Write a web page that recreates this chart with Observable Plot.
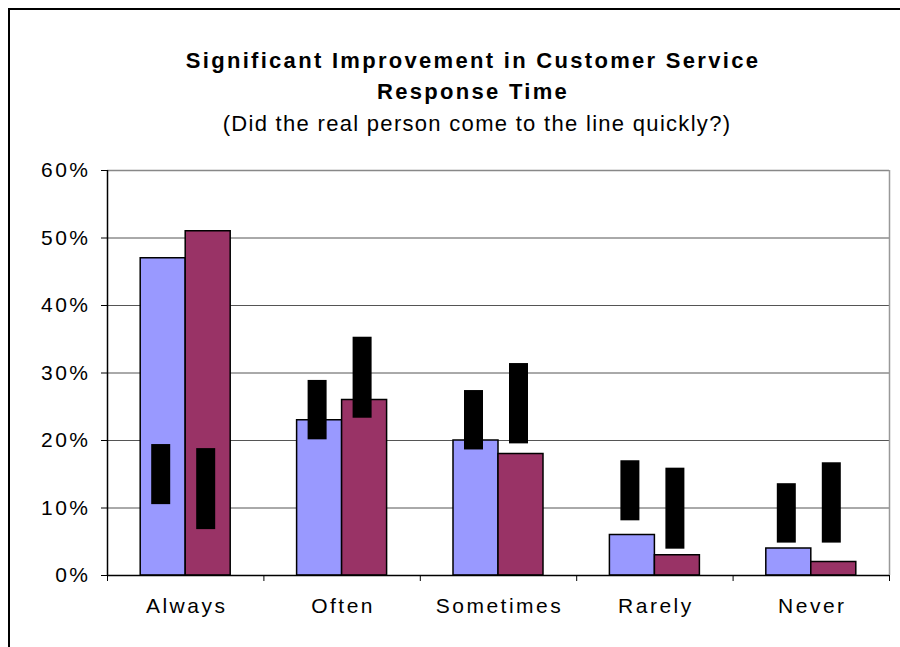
<!DOCTYPE html>
<html>
<head>
<meta charset="utf-8">
<script src="https://cdn.jsdelivr.net/npm/d3@7"></script>
<script src="https://cdn.jsdelivr.net/npm/@observablehq/plot@0.6"></script>
<style>
  html, body { margin: 0; padding: 0; background: #fff; }
  #wrap { position: relative; width: 900px; height: 647px; overflow: hidden; font-family: "Liberation Sans", Arial, sans-serif; }
  #frame { position: absolute; left: 8px; top: 8px; width: 900px; height: 650px; border-left: 2px solid #000; border-top: 2px solid #000; }
  #header { position: absolute; left: 0; top: 0; width: 944px; height: 150px; text-align: center; color: #000; }
  .t1 { position: absolute; left: 0; width: 946px; font-weight: bold; font-size: 22px; letter-spacing: 2.3px; }
  .t2 { position: absolute; left: 0; width: 954px; font-size: 22px; letter-spacing: 1.3px; }
  #chart { position: absolute; left: 0; top: 150px; }
  #chart svg text { letter-spacing: 2.5px; }
</style>
</head>
<body>
<div id="wrap">
  <div id="frame"></div>
  <div id="header">
    <div class="t1" style="top:48px">Significant Improvement in Customer Service</div>
    <div class="t1" style="top:79px">Response Time</div>
    <div class="t2" style="top:111px">(Did the real person come to the line quickly?)</div>
  </div>
  <div id="chart"></div>
</div>
<script>
const categories = ["Always", "Often", "Sometimes", "Rarely", "Never"];
const seriesNames = ["Series 1", "Series 2"];
const valuesS1 = [0.47, 0.23, 0.20, 0.06, 0.04];
const valuesS2 = [0.51, 0.26, 0.18, 0.03, 0.02];
const labelLoS1 = [0.105, 0.201, 0.186, 0.081, 0.048];
const labelHiS1 = [0.194, 0.289, 0.274, 0.170, 0.136];
const labelLoS2 = [0.068, 0.233, 0.195, 0.039, 0.048];
const labelHiS2 = [0.188, 0.353, 0.314, 0.159, 0.167];
const yTicks = [0, 0.1, 0.2, 0.3, 0.4, 0.5, 0.6];
const colors = ["#9999FF", "#993366"];

const barW = 0.2877; // bar width in category units
const rows = [];
categories.forEach((c, i) => {
  rows.push({cat: c, i, s: 0, series: seriesNames[0], value: valuesS1[i], lo: labelLoS1[i], hi: labelHiS1[i]});
  rows.push({cat: c, i, s: 1, series: seriesNames[1], value: valuesS2[i], lo: labelLoS2[i], hi: labelHiS2[i]});
});
const x1 = d => d.i + 0.5 + (d.s === 0 ? -barW : 0);
const x2 = d => d.i + 0.5 + (d.s === 0 ? 0 : barW);
const centers = categories.map((c, i) => i + 0.5);
const bounds = d3.range(categories.length + 1);

const chart = Plot.plot({
  width: 900,
  height: 497,
  marginLeft: 107,
  marginRight: 11,
  marginTop: 20,
  marginBottom: 72,
  style: {fontFamily: "'Liberation Sans', Arial, sans-serif", fontSize: "21px", color: "#000", background: "transparent", overflow: "visible"},
  x: {domain: [0, categories.length]},
  y: {domain: [0, 0.6]},
  color: {domain: seriesNames, range: colors},
  marks: [
    Plot.gridY(yTicks.filter(t => t > 0 && t < 0.6), {stroke: "#555", strokeOpacity: 1, strokeWidth: 1}),
    Plot.ruleY([0.6], {stroke: "#888", strokeWidth: 1.5}),
    Plot.ruleX([categories.length], {stroke: "#999", strokeWidth: 1.5}),
    Plot.rectY(rows, {x1, x2, y: "value", fill: "series", stroke: "#000", strokeWidth: 1.5}),
    Plot.rectY(rows, {x1, x2, y1: "lo", y2: "hi", fill: "#000", insetLeft: 11, insetRight: 15}),
    Plot.axisY({ticks: yTicks, tickFormat: d3.format(".0%"), tickSize: 6, tickPadding: 11, fontSize: 21, stroke: "#000"}),
    Plot.axisX({ticks: bounds, tickSize: 6, tickFormat: () => "", stroke: "#000"}),
    Plot.axisX({ticks: centers, tickSize: 0, tickPadding: 23, fontSize: 21, dx: 1, tickFormat: v => categories[Math.floor(v)]}),
    Plot.ruleX([0], {stroke: "#000", strokeWidth: 1.5}),
    Plot.ruleY([0], {stroke: "#000", strokeWidth: 1.5})
  ]
});
document.getElementById("chart").appendChild(chart);
</script>
</body>
</html>
